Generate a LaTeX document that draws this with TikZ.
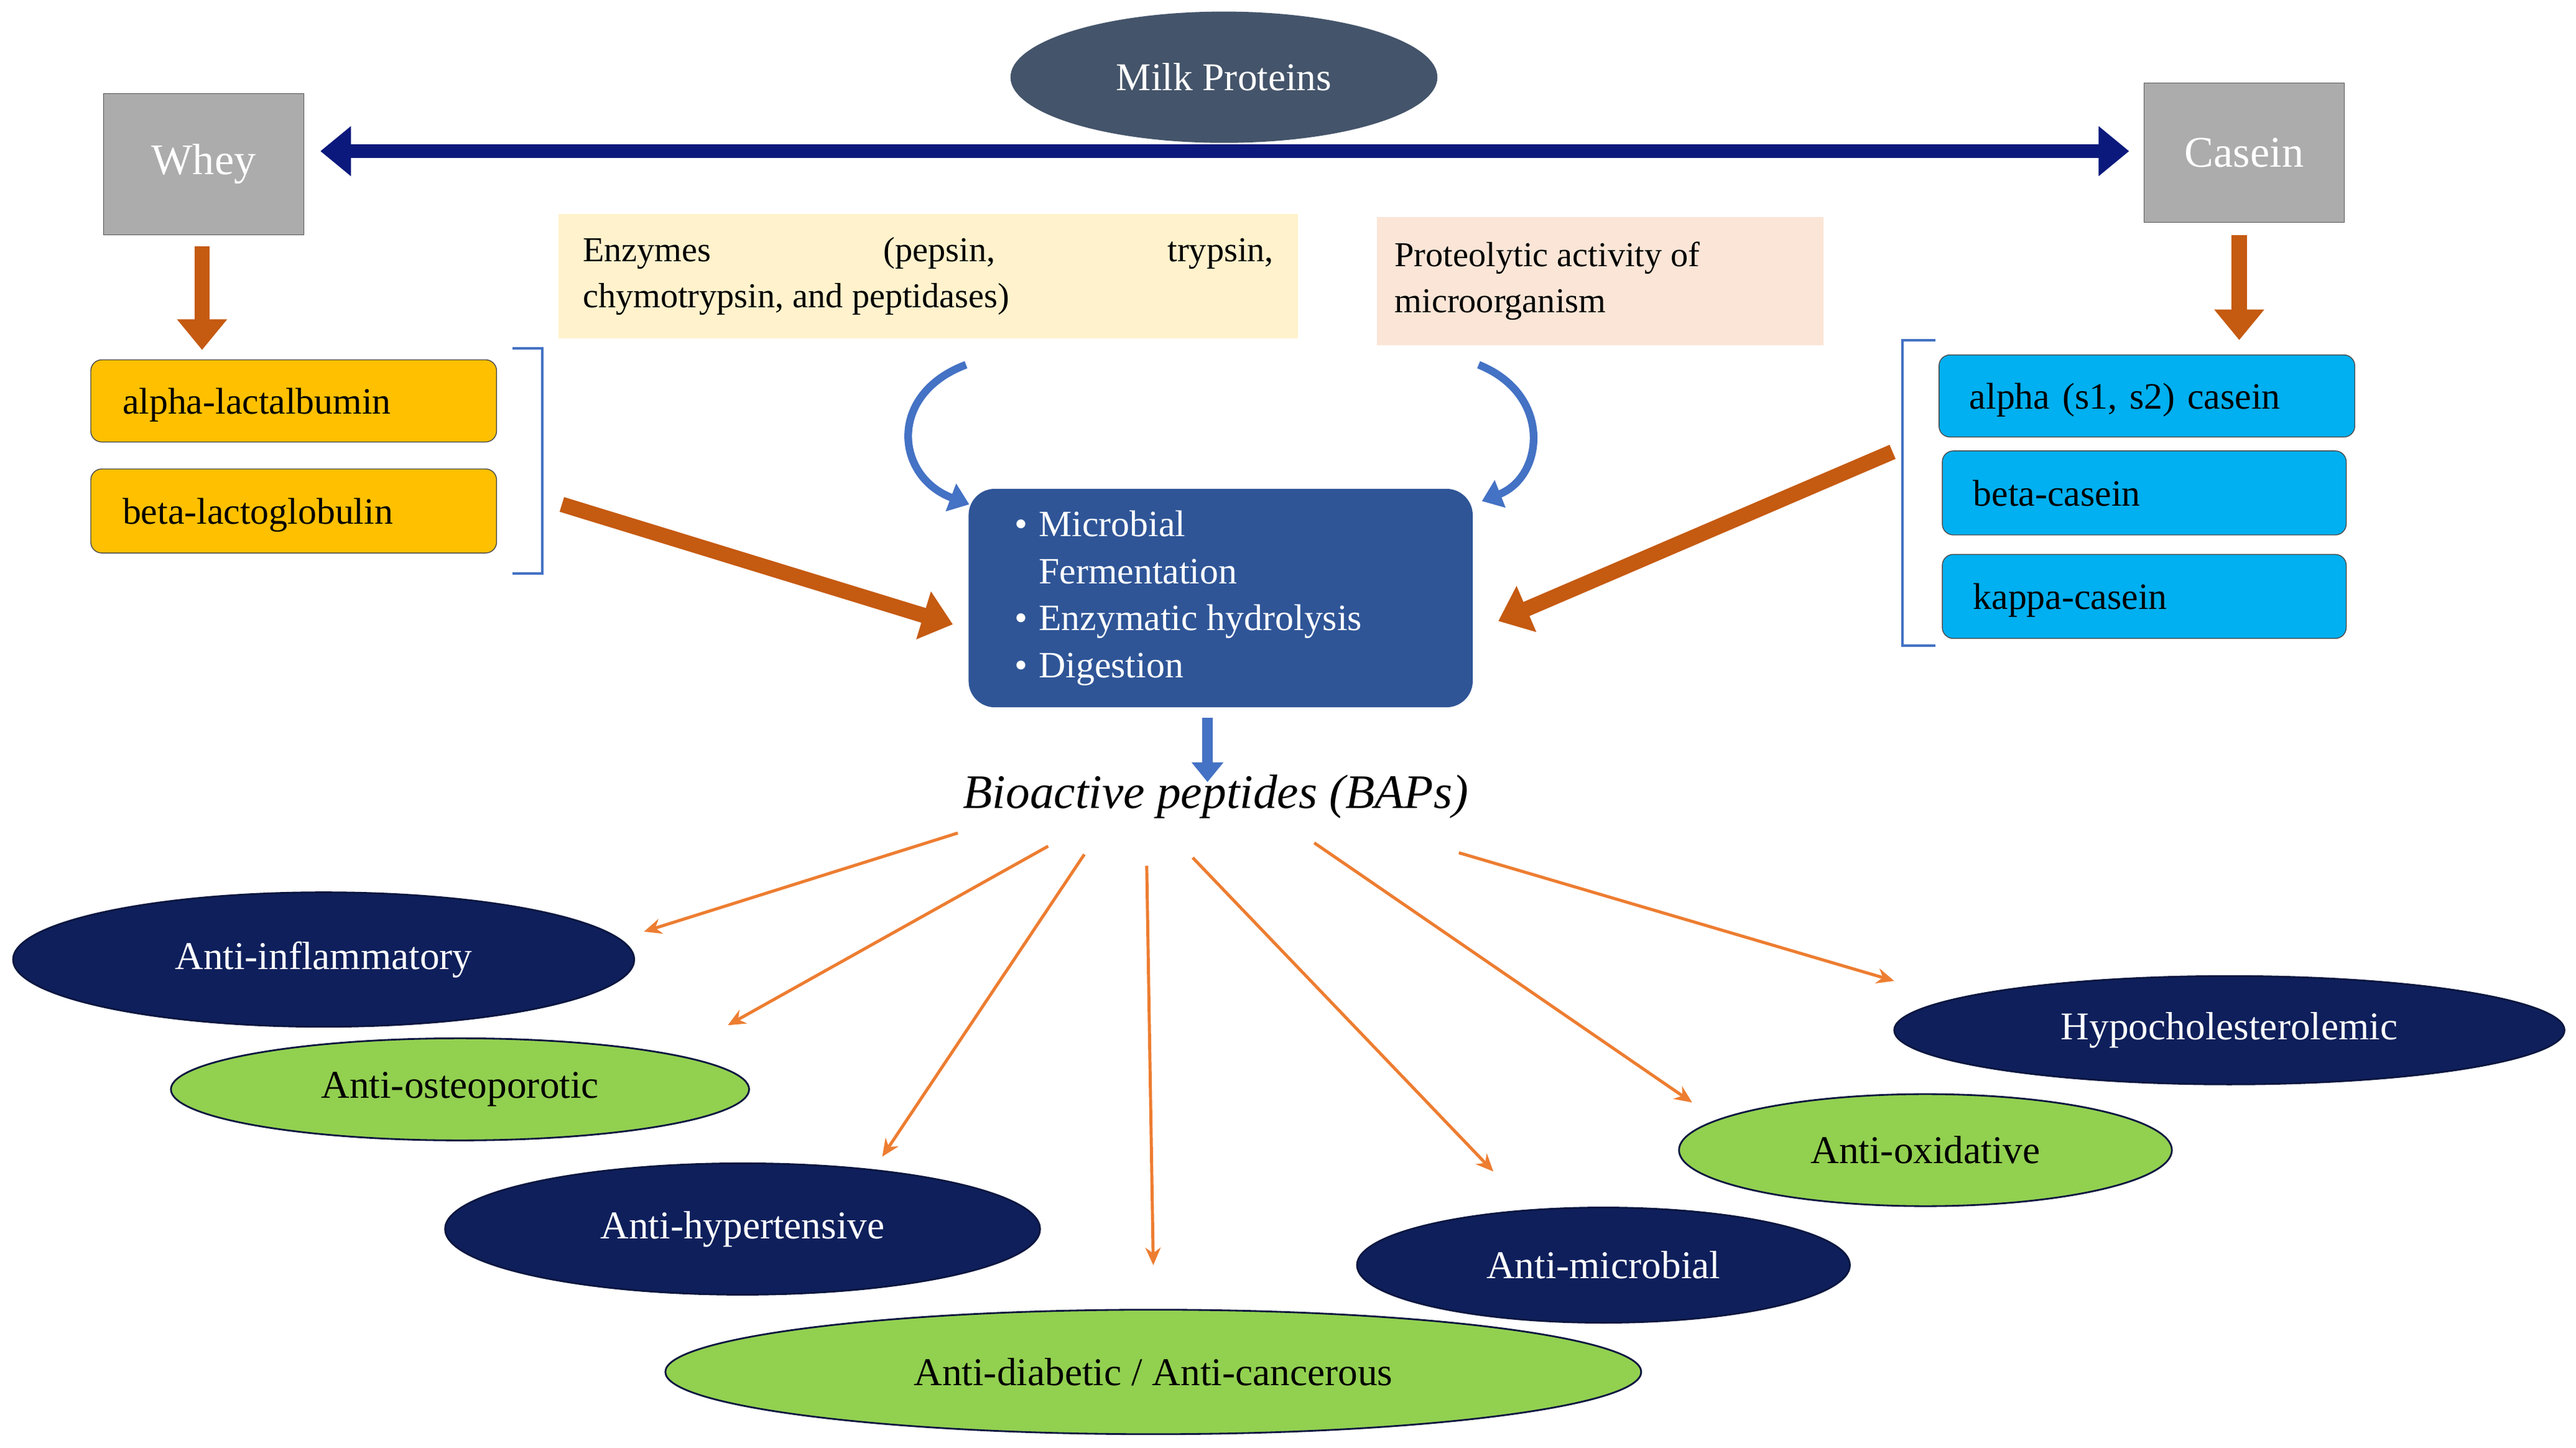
\documentclass[tikz,border=0pt]{standalone}
\usepackage{fontspec}
\setmainfont{Liberation Serif}
\usetikzlibrary{arrows.meta,shapes.geometric}
\definecolor{navy}{HTML}{0E1F5B}
\definecolor{slate}{HTML}{44546A}
\definecolor{greenF}{HTML}{92D050}
\definecolor{orng}{HTML}{C55A11}
\definecolor{lorng}{HTML}{ED7D31}
\definecolor{bluA}{HTML}{4472C4}
\begin{document}
\begin{tikzpicture}[x=0.0264cm,y=-0.0264cm,
 el/.style={ellipse,draw=navy!70!black,line width=0.8pt,inner sep=0pt,font=\fontsize{18}{20}\selectfont},
 nv/.style={el,fill=navy,text=white},
 gr/.style={el,fill=greenF,text=black},
 gbox/.style={draw=gray!70!black,fill=gray!65,text=white,inner sep=0pt,font=\fontsize{20}{22}\selectfont},
 ibox/.style={draw=black!70,rounded corners=5pt,inner sep=0pt,font=\fontsize{17}{19}\selectfont,anchor=west,align=left,text depth=0pt},
 fat/.style={orng,line width=7pt,-{Triangle[length=14pt,width=22pt]}},
 thin/.style={lorng,line width=1.4pt,-{Stealth[length=8pt,width=7pt]}},
 brk/.style={bluA,line width=1.2pt}]
\useasboundingbox (0,0) rectangle (1568,881);
% top
\node[ellipse,fill=slate,minimum width=260\pgflinewidth*0+6.86cm,minimum height=2.11cm,inner sep=0pt,text=white,font=\fontsize{18}{20}\selectfont] (milk) at (745,47) {Milk Proteins};
\node[gbox,minimum width=3.22cm,minimum height=2.27cm] (whey) at (124,100) {Whey};
\node[gbox,minimum width=3.22cm,minimum height=2.24cm] (casein) at (1366,93) {Casein};
\coordinate (dl) at (195,92); \coordinate (dr) at (1296,92);
\draw[navy!80!blue,line width=6pt,{Triangle[length=14pt,width=22pt]}-{Triangle[length=14pt,width=22pt]}] (dl) -- (dr);
% whey side
\coordinate (wa) at (123,150); \coordinate (wb) at (123,213);
\draw[fat] (wa) -- (wb);
\coordinate (ca) at (1363,143); \coordinate (cb) at (1363,207);
\draw[fat] (ca) -- (cb);
\node[ibox,fill=orange!20!yellow!90!orange,fill={rgb,255:red,255;green,192;blue,0},minimum width=6.52cm,minimum height=1.32cm,text width=6.2cm] (al) at (55,244) {\hspace{0.35cm}alpha-lactalbumin};
\node[ibox,fill={rgb,255:red,255;green,192;blue,0},minimum width=6.52cm,minimum height=1.35cm,text width=6.2cm] (bl) at (55,311) {\hspace{0.35cm}beta-lactoglobulin};
\draw[brk] (312,212) -- (330,212) -- (330,349) -- (312,349);
% casein side
\node[ibox,fill={rgb,255:red,0;green,176;blue,240},minimum width=6.68cm,minimum height=1.32cm,text width=6.4cm] (ac) at (1180,241) {\hspace{0.35cm}alpha (s1, s2) casein};
\node[ibox,fill={rgb,255:red,0;green,176;blue,240},minimum width=6.49cm,minimum height=1.35cm,text width=6.2cm] (bc) at (1182,300) {\hspace{0.35cm}beta-casein};
\node[ibox,fill={rgb,255:red,0;green,176;blue,240},minimum width=6.49cm,minimum height=1.35cm,text width=6.2cm] (kc) at (1182,363) {\hspace{0.35cm}kappa-casein};
\draw[brk] (1178,207) -- (1158,207) -- (1158,393) -- (1178,393);
% enzyme boxes
\node[fill={rgb,255:red,255;green,242;blue,204},minimum width=11.88cm,minimum height=2.0cm,inner sep=0pt,font=\fontsize{16}{21}\selectfont] (enz) at (565,168) {\begin{minipage}{11.1cm}Enzymes\hfill(pepsin,\hfill trypsin,\\chymotrypsin, and peptidases)\end{minipage}};
\node[fill={rgb,255:red,251;green,229;blue,214},minimum width=7.18cm,minimum height=2.06cm,inner sep=0pt,font=\fontsize{16}{21}\selectfont] (prot) at (974,171) {\begin{minipage}{6.6cm}Proteolytic activity of\\microorganism\end{minipage}};
% center
\node[fill={rgb,255:red,47;green,85;blue,151},rounded corners=12pt,minimum width=8.1cm,minimum height=3.51cm,inner sep=0pt,text=white,font=\fontsize{17}{21.5}\selectfont] (mid) at (743,364) {\begin{minipage}{7.6cm}\begin{itemize}\itemsep0pt\parskip0pt\topsep0pt\leftmargin0.6cm
\item Microbial\\Fermentation
\item Enzymatic hydrolysis
\item Digestion\end{itemize}\end{minipage}};
\coordinate (cl1) at (588,222); \coordinate (cl2) at (590,307);
\draw[bluA,line width=3.5pt,-{Triangle[length=9pt,width=13pt]}] (cl1) .. controls (540,240) and (545,290) .. (cl2);
\coordinate (cr1) at (900,222); \coordinate (cr2) at (902,305);
\draw[bluA,line width=3.5pt,-{Triangle[length=9pt,width=13pt]}] (cr1) .. controls (945,240) and (940,290) .. (cr2);
\coordinate (wl) at (342,307); \coordinate (wr) at (580,380);
\draw[fat] (wl) -- (wr);
\coordinate (el) at (1152,275); \coordinate (er) at (912,378);
\draw[fat] (el) -- (er);
\coordinate (ba) at (735,437); \coordinate (bb) at (735,476);
\draw[bluA,line width=5pt,-{Triangle[length=9pt,width=14pt]}] (ba) -- (bb);
\node[font=\itshape\fontsize{22}{24}\selectfont] (bap) at (740,485) {Bioactive peptides (BAPs)};
% outcomes
\node[nv,minimum width=9.98cm,minimum height=2.16cm] (o1) at (197,584) {Anti-inflammatory};
\node[gr,minimum width=9.29cm,minimum height=1.64cm] (o2) at (280,663) {Anti-osteoporotic};
\node[nv,minimum width=9.56cm,minimum height=2.11cm] (o3) at (452,748) {Anti-hypertensive};
\node[gr,minimum width=15.68cm,minimum height=2.0cm] (o4) at (702,835) {Anti-diabetic / Anti-cancerous};
\node[nv,minimum width=7.92cm,minimum height=1.85cm] (o5) at (976,770) {Anti-microbial};
\node[gr,minimum width=7.92cm,minimum height=1.8cm] (o6) at (1172,700) {Anti-oxidative};
\node[nv,minimum width=10.77cm,minimum height=1.74cm] (o7) at (1357,627) {Hypocholesterolemic};
\coordinate (s1) at (583,507); \coordinate (t1) at (392,567);
\coordinate (s2) at (638,515); \coordinate (t2) at (443,624);
\coordinate (s3) at (660,520); \coordinate (t3) at (537,704);
\coordinate (s4) at (698,527); \coordinate (t4) at (702,770);
\coordinate (s5) at (726,522); \coordinate (t5) at (909,713);
\coordinate (s6) at (800,513); \coordinate (t6) at (1030,671);
\coordinate (s7) at (888,519); \coordinate (t7) at (1153,597);
\foreach \i in {1,...,7} \draw[thin] (s\i) -- (t\i);
\end{tikzpicture}
\end{document}
